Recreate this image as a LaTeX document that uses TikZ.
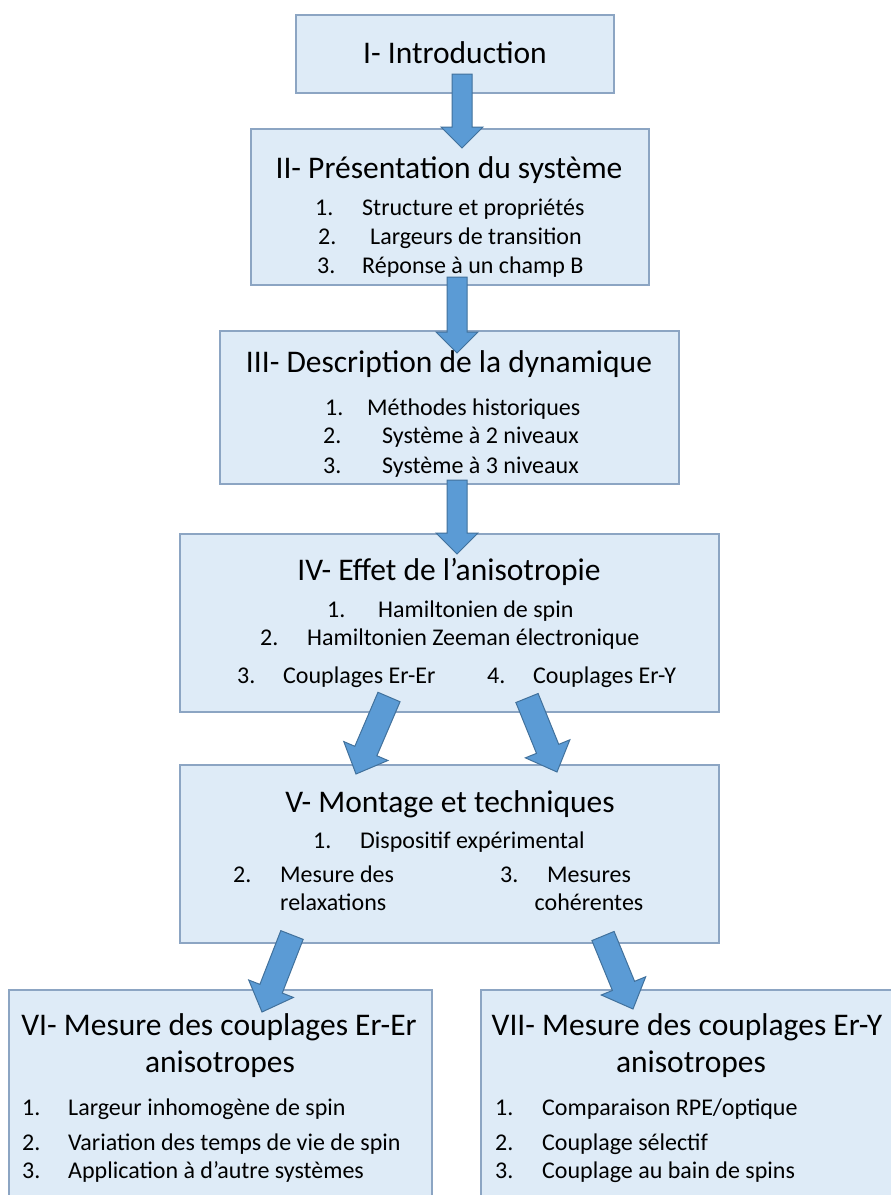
\documentclass[tikz,border=0pt]{standalone}
\usepackage{fontspec}
\setmainfont{Carlito}
\usetikzlibrary{calc}
\definecolor{boxfill}{RGB}{222,235,247}
\definecolor{boxline}{RGB}{140,165,195}
\definecolor{arrowfill}{RGB}{91,155,213}
\definecolor{arrowline}{RGB}{65,113,156}
\newcommand{\nb}[2][47pt]{\makebox[#1][l]{#2}}
% block arrow: shaft half width, head half width, head length, from, to
\newcommand{\bigarrow}[5]{%
  \coordinate (h) at ($(#5)!#3!(#4)$);
  \draw[arr] ($(#4)!#1!-90:(#5)$) -- ($(h)!#1!90:(#4)$) -- ($(h)!#2!90:(#4)$) -- (#5)
    -- ($(h)!#2!-90:(#4)$) -- ($(h)!#1!-90:(#4)$) -- ($(#4)!#1!90:(#5)$) -- cycle;}

\begin{document}
\begin{tikzpicture}[
    box/.style={rectangle,draw=boxline,fill=boxfill,line width=1.2pt,inner sep=0pt},
    title/.style={font=\fontsize{31.5}{37}\selectfont,inner sep=0pt,anchor=base},
    item/.style={font=\fontsize{24}{28}\selectfont,inner sep=0pt,anchor=base west},
    arr/.style={draw=arrowline,fill=arrowfill,line width=1pt,line join=miter},
    x=1pt,y=-1pt
    ]
    \useasboundingbox (0,0) rectangle (891,1195);
    \clip (0,0) rectangle (891,1195);
    \fill[white] (0,0) rectangle (891,1195);

    \node[box,minimum width=318pt,minimum height=78pt](intro) at (455,54){};
    \node[box,minimum width=398pt,minimum height=156pt](pres) at (450,207){};
    \node[box,minimum width=459pt,minimum height=153pt](dyn) at (449.5,407.5){};
    \node[box,minimum width=539pt,minimum height=178pt](aniso) at (449.5,623){};
    \node[box,minimum width=539pt,minimum height=178pt](mont) at (449.5,854){};
    \node[box,minimum width=423pt,minimum height=230pt](erer) at (220.5,1105){};
    \node[box,minimum width=428pt,minimum height=230pt](ery) at (695,1105){};

    \node[title](intro-t) at (455,63){I- Introduction};

    \node[title](pres-t) at (449,178){II- Présentation du système};
    \node[item](pres-1) at (315,215){\nb{1.}Structure et propriétés};
    \node[item](pres-2) at (318,244){\nb[52pt]{2.}Largeurs de transition};
    \node[item](pres-3) at (317,273){\nb[45pt]{3.}Réponse à un champ B};

    \node[title](dyn-t) at (449,372){III- Description de la dynamique};
    \node[item](dyn-1) at (325,415){\nb[42pt]{1.}Méthodes historiques};
    \node[item](dyn-2) at (323,443){\nb[59pt]{2.}Système à 2 niveaux};
    \node[item](dyn-3) at (323,473){\nb[59pt]{3.}Système à 3 niveaux};

    \node[title](aniso-t) at (449,580){IV- Effet de l’anisotropie};
    \node[item](aniso-1) at (327,617){\nb[51pt]{1.}Hamiltonien de spin};
    \node[item](aniso-2) at (260,645){\nb{2.}Hamiltonien Zeeman électronique};
    \node[item](aniso-3) at (237,683){\nb[46pt]{3.}Couplages Er-Er};
    \node[item](aniso-4) at (487,683){\nb[46pt]{4.}Couplages Er-Y};

    \node[title](mont-t) at (450,812){V- Montage et techniques};
    \node[item](mont-1) at (313,848){\nb{1.}Dispositif expérimental};
    \node[item](mont-2) at (233,882){\nb{2.}Mesure des};
    \node[item](mont-2b) at (280,910){relaxations};
    \node[item](mont-3) at (500,882){3.};
    \node[item,anchor=base](mont-3a) at (589,882){Mesures};
    \node[item,anchor=base](mont-3b) at (589,910){cohérentes};

    \node[title](erer-t) at (219,1035){VI- Mesure des couplages Er-Er};
    \node[title](erer-t2) at (220,1072){anisotropes};
    \node[item](erer-1) at (22,1115){\nb[46pt]{1.}Largeur inhomogène de spin};
    \node[item](erer-2) at (22,1150){\nb[46pt]{2.}Variation des temps de vie de spin};
    \node[item](erer-3) at (22,1178){\nb[46pt]{3.}Application à d’autre systèmes};

    \node[title](ery-t) at (687,1035){VII- Mesure des couplages Er-Y};
    \node[title](ery-t2) at (691,1072){anisotropes};
    \node[item](ery-1) at (495,1115){\nb{1.}Comparaison RPE/optique};
    \node[item](ery-2) at (495,1150){\nb{2.}Couplage sélectif};
    \node[item](ery-3) at (495,1178){\nb{3.}Couplage au bain de spins};

    \coordinate (a1) at (462,74);   \coordinate (b1) at (462,148);
    \coordinate (a2) at (457,277);  \coordinate (b2) at (457,353);
    \coordinate (a3) at (457,480);  \coordinate (b3) at (457,554);
    \coordinate (a4) at (389,697);  \coordinate (b4) at (356,774);
    \coordinate (a5) at (527,698);  \coordinate (b5) at (557,772);
    \coordinate (a6) at (292,935);  \coordinate (b6) at (262,1012);
    \coordinate (a7) at (603,936);  \coordinate (b7) at (633,1009);

    \bigarrow{10pt}{21pt}{21pt}{a1}{b1}
    \bigarrow{10pt}{21pt}{21pt}{a2}{b2}
    \bigarrow{10pt}{21pt}{21pt}{a3}{b3}
    \bigarrow{12pt}{24pt}{25pt}{a4}{b4}
    \bigarrow{12pt}{24pt}{25pt}{a5}{b5}
    \bigarrow{12pt}{24pt}{25pt}{a6}{b6}
    \bigarrow{12pt}{24pt}{25pt}{a7}{b7}
  \end{tikzpicture}
\end{document}
